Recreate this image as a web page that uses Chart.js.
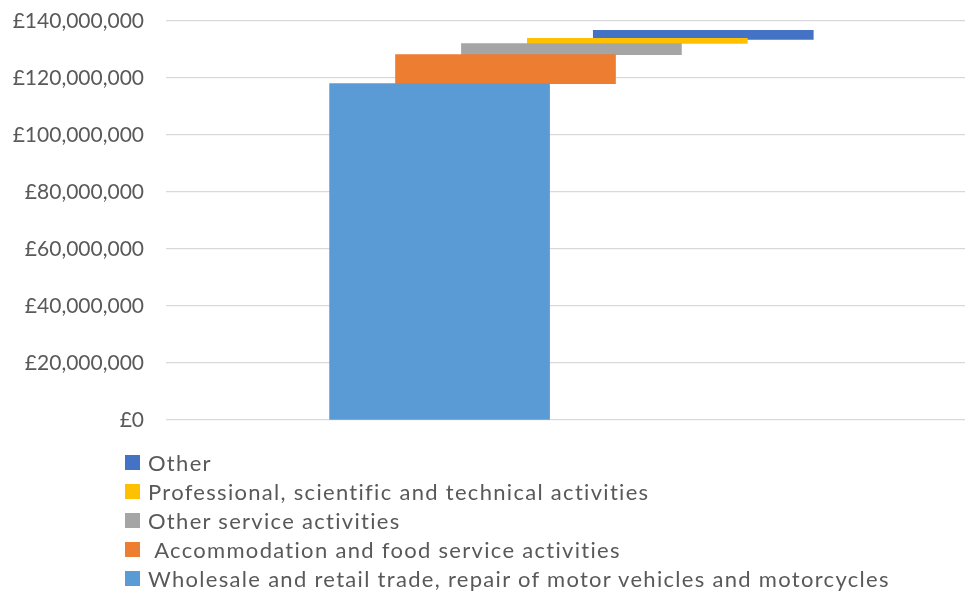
<!DOCTYPE html>
<html>
<head>
<meta charset="utf-8">
<script src="https://cdn.jsdelivr.net/npm/chart.js@4.4.1/dist/chart.umd.min.js"></script>
<style>
  body { margin: 0; background: #fff; }
  #wrap { position: relative; width: 965px; height: 594px; }
  #legend {
    position: absolute; left: 125px; top: 448px;
    font-family: Lato, sans-serif; font-size: 22px; letter-spacing: 1.3px; color: #595959;
  }
  #legend div { height: 29px; line-height: 29px; display: flex; align-items: center; white-space: pre; }
  #legend span.box { width: 15px; height: 15px; margin-right: 8px; flex: none; }
</style>
</head>
<body>
<div id="wrap">
  <canvas id="myChart" width="965" height="594"></canvas>
  <div id="legend"></div>
</div>
<script>
// series, in drawing order (first is at the back)
const seriesNames = [
  'Wholesale and retail trade, repair of motor vehicles and motorcycles',
  ' Accommodation and food service activities',
  'Other service activities',
  'Professional, scientific and technical activities',
  'Other'
];
const seriesFrom = [0, 118000000, 128200000, 132100000, 133500000];
const seriesTo = [118000000, 128200000, 132100000, 133900000, 136700000];
const seriesColors = ['#5B9BD5', '#ED7D31', '#A5A5A5', '#FFC000', '#4472C4'];
const yTicks = [0, 20000000, 40000000, 60000000, 80000000, 100000000, 120000000, 140000000];

const fontFamily = 'Lato, sans-serif';

// each series sits one slot to the right of the previous one (overlapping columns)
const datasets = seriesNames.map((name, i) => ({
  label: name,
  data: [{ x: i, y: [seriesFrom[i], seriesTo[i]] }],
  backgroundColor: seriesColors[i],
  borderWidth: 0,
  barThickness: 220,
  grouped: false
}));

const chart = new Chart(document.getElementById('myChart'), {
  type: 'bar',
  data: { datasets },
  options: {
    responsive: false,
    animation: false,
    layout: { padding: { top: 21, right: 0, bottom: 174, left: 0 } },
    plugins: { legend: { display: false }, tooltip: { enabled: false } },
    scales: {
      x: { type: 'linear', display: false, offset: false, min: -4.15, max: 7.97 },
      y: {
        min: 0,
        max: 140000000,
        afterBuildTicks: s => { s.ticks = yTicks.map(v => ({ value: v })); },
        afterFit: s => { s.width = 166; s.paddingTop = 0; s.paddingBottom = 0; },
        border: { display: false },
        grid: { color: '#D9D9D9', lineWidth: 1.3, drawTicks: false },
        ticks: {
          padding: 22,
          color: '#595959',
          font: { family: fontFamily, size: 21 },
          callback: v => '£' + Number(v).toLocaleString('en-GB')
        }
      }
    }
  }
});

// legend listed top to bottom in reverse series order
const legendEl = document.getElementById('legend');
chart.options.plugins.legend.labels.generateLabels(chart).reverse().forEach(item => {
  const row = document.createElement('div');
  const box = document.createElement('span');
  box.className = 'box';
  box.style.background = item.fillStyle;
  row.appendChild(box);
  row.appendChild(document.createTextNode(item.text));
  legendEl.appendChild(row);
});
</script>
</body>
</html>
